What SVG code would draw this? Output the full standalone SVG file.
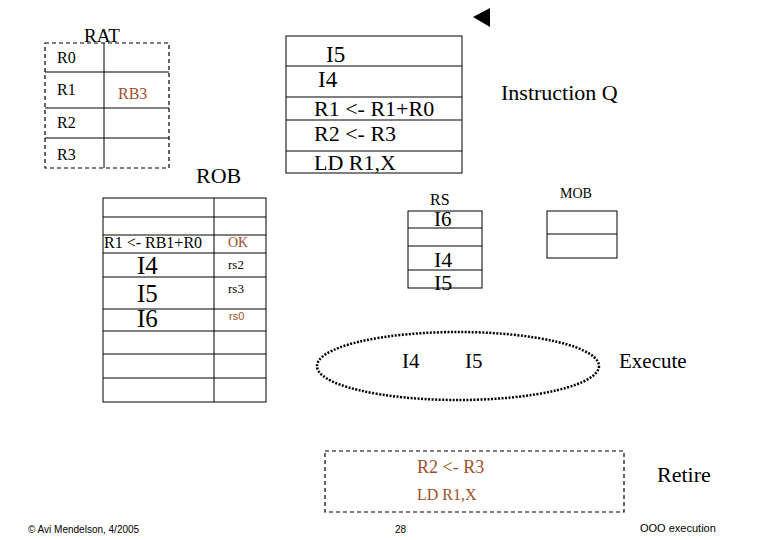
<svg xmlns="http://www.w3.org/2000/svg" width="780" height="540" viewBox="0 0 780 540">
<style>
.t{font-family:"Liberation Serif","Times New Roman",serif;fill:#000}
.s{font-family:"Liberation Sans",Arial,sans-serif;fill:#000}
.br{fill:#a0502a}
.ln{stroke:#000;stroke-width:1;fill:none}
.dash{stroke:#000;stroke-width:1.2;fill:none;stroke-dasharray:4 3}
</style>
<rect width="780" height="540" fill="#fff"/>
<g id="rat">
<rect class="dash" x="45" y="43" width="124" height="125"/>
<line class="ln" x1="104" y1="43" x2="104" y2="168"/>
<line class="ln" x1="45" y1="72" x2="169" y2="72"/>
<line class="ln" x1="45" y1="108" x2="169" y2="108"/>
<line class="ln" x1="45" y1="138" x2="169" y2="138"/>
<text class="t" x="84" y="42" font-size="19">RAT</text>
<text class="t" x="57" y="63" font-size="16">R0</text>
<text class="t" x="57" y="95" font-size="16">R1</text>
<text class="t br" x="118" y="99" font-size="16">RB3</text>
<text class="t" x="57" y="128" font-size="16">R2</text>
<text class="t" x="57" y="160" font-size="16">R3</text>
</g>
<g id="instq">
<rect class="ln" x="286" y="36" width="176" height="137"/>
<line class="ln" x1="286" y1="66" x2="462" y2="66"/>
<line class="ln" x1="286" y1="97" x2="462" y2="97"/>
<line class="ln" x1="286" y1="120" x2="462" y2="120"/>
<line class="ln" x1="286" y1="151" x2="462" y2="151"/>
<text class="t" x="326" y="62" font-size="23">I5</text>
<text class="t" x="318" y="87" font-size="23">I4</text>
<text class="t" x="314" y="116" font-size="22">R1 &lt;- R1+R0</text>
<text class="t" x="314" y="141" font-size="22">R2 &lt;- R3</text>
<text class="t" x="314" y="170" font-size="22">LD R1,X</text>
<text class="t" x="501" y="100" font-size="22">Instruction Q</text>
<polygon points="473,17 490,8 490,27" fill="#000"/>
</g>
<g id="rob">
<text class="t" x="196" y="183" font-size="22">ROB</text>
<rect class="ln" x="103" y="198" width="163" height="204"/>
<line class="ln" x1="214" y1="198" x2="214" y2="402"/>
<line class="ln" x1="103" y1="217" x2="266" y2="217"/>
<line class="ln" x1="103" y1="235" x2="266" y2="235"/>
<line class="ln" x1="103" y1="253" x2="266" y2="253"/>
<line class="ln" x1="103" y1="277" x2="266" y2="277"/>
<line class="ln" x1="103" y1="309" x2="266" y2="309"/>
<line class="ln" x1="103" y1="331" x2="266" y2="331"/>
<line class="ln" x1="103" y1="354" x2="266" y2="354"/>
<line class="ln" x1="103" y1="378" x2="266" y2="378"/>
<rect x="104" y="236" width="109" height="16" fill="#fff"/>
<text class="t" x="104" y="248" font-size="16">R1 &lt;- RB1+R0</text>
<text class="t br" x="228" y="247" font-size="14">OK</text>
<text class="t" x="137" y="274" font-size="25">I4</text>
<text class="t" x="228" y="269" font-size="13">rs2</text>
<text class="t" x="137" y="302" font-size="25">I5</text>
<text class="t" x="228" y="293" font-size="13">rs3</text>
<text class="t" x="137" y="327" font-size="25">I6</text>
<text class="s br" x="229" y="320" font-size="11">rs0</text>
</g>
<g id="rs">
<text class="t" x="430" y="205" font-size="16">RS</text>
<rect class="ln" x="408" y="211" width="74" height="77"/>
<line class="ln" x1="408" y1="228" x2="482" y2="228"/>
<line class="ln" x1="408" y1="246" x2="482" y2="246"/>
<line class="ln" x1="408" y1="270" x2="482" y2="270"/>
<text class="t" x="434" y="226" font-size="21">I6</text>
<text class="t" x="434" y="267" font-size="22">I4</text>
<text class="t" x="434" y="290" font-size="22">I5</text>
</g>
<g id="mob">
<text class="t" x="560" y="198" font-size="14">MOB</text>
<rect class="ln" x="547" y="211" width="70" height="47"/>
<line class="ln" x1="547" y1="234" x2="617" y2="234"/>
</g>
<g id="execute">
<ellipse cx="458" cy="366" rx="141" ry="34" fill="none" stroke="#000" stroke-width="2.5" stroke-dasharray="2 1.5"/>
<text class="t" x="402" y="368" font-size="21">I4</text>
<text class="t" x="465" y="368" font-size="21">I5</text>
<text class="t" x="619" y="368" font-size="21">Execute</text>
</g>
<g id="retire">
<rect class="dash" x="325" y="451" width="299" height="61"/>
<text class="t br" x="417" y="473" font-size="18">R2 &lt;- R3</text>
<text class="t br" x="417" y="500" font-size="16">LD R1,X</text>
<text class="t" x="657" y="482" font-size="22">Retire</text>
</g>
<g id="connectors"></g>
<g id="footer">
<text class="s" x="28" y="533" font-size="10">© Avi Mendelson, 4/2005</text>
<text class="s" x="395" y="533" font-size="10">28</text>
<text class="s" x="640" y="532" font-size="11">OOO execution</text>
</g>
</svg>
